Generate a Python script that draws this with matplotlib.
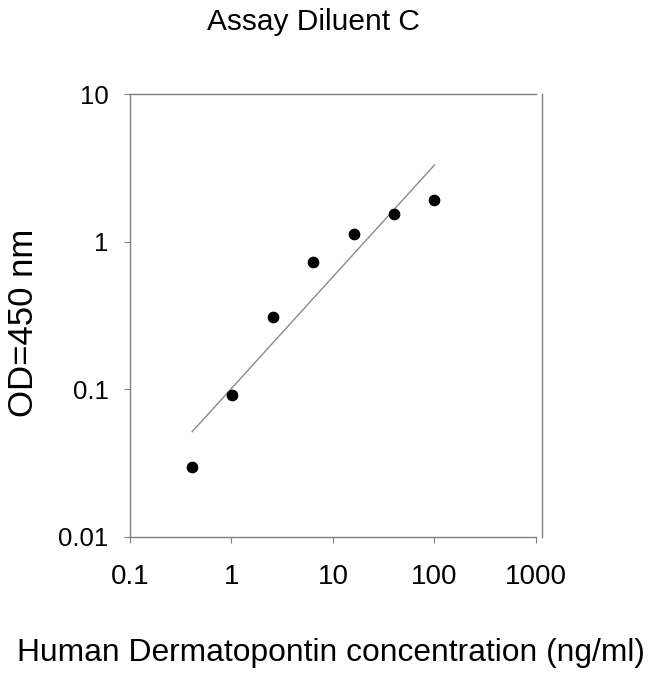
import numpy as np
import matplotlib
matplotlib.use('Agg')
import matplotlib.pyplot as plt

# standard curve, Assay Diluent C
conc = [0.41, 1.02, 2.56, 6.4, 16, 40, 100]
od = [0.030, 0.091, 0.31, 0.73, 1.13, 1.53, 1.92]

xticks = [0.1, 1, 10, 100, 1000]
xticklabels = ['0.1', '1', '10', '100', '1000']
yticks = [0.01, 0.1, 1, 10]
yticklabels = ['0.01', '0.1', '1', '10']

plt.rcParams['font.family'] = ['Liberation Sans', 'DejaVu Sans']

fig = plt.figure(figsize=(6.5, 6.74), dpi=100)
ax = fig.add_axes([0.2, 0.2033, 0.6246, 0.6572])

ax.scatter(conc, od, s=55, color='black', zorder=3)

# power trendline (linear fit in log-log)
slope, icpt = np.polyfit(np.log10(conc), np.log10(od), 1)
xfit = np.array([min(conc), max(conc)])
ax.plot(xfit, 10 ** (icpt + slope * np.log10(xfit)), color='#8a8a8a', lw=1.0)

ax.set_xscale('log')
ax.set_yscale('log')
ax.set_xlim(0.1, 1000)
ax.set_ylim(0.01, 10)

ax.minorticks_off()
ax.set_xticks(xticks)
ax.set_xticklabels(xticklabels)
ax.set_yticks(yticks)
ax.set_yticklabels(yticklabels)
ax.tick_params(axis='x', labelsize=20, pad=15, length=4.5, color='#808080', direction='out')
ax.tick_params(axis='y', labelsize=18.5, pad=11, length=4.5, color='#808080', direction='out')

for s in ax.spines.values():
    s.set_color('#808080')
    s.set_linewidth(1.0)
ax.spines['right'].set_position(('outward', 4))

ax.set_ylabel('OD=450 nm', fontsize=25)
ax.yaxis.set_label_coords(-0.222, 0.484)
ax.set_xlabel('Human Dermatopontin concentration (ng/ml)', fontsize=22.9)
ax.xaxis.set_label_coords(0.495, -0.228)

fig.text(0.4815, 0.9555, 'Assay Diluent C', fontsize=21.5, ha='center', va='baseline')

plt.savefig('out.png', dpi=100)
